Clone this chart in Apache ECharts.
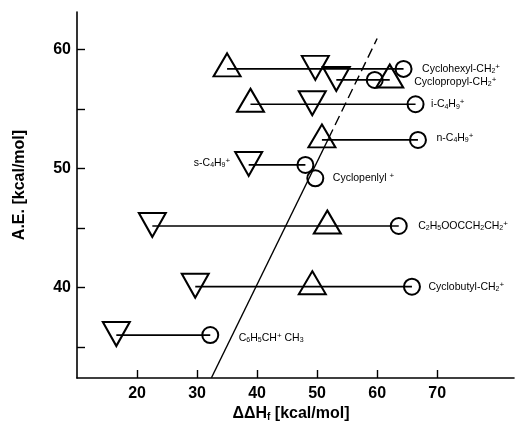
<!DOCTYPE html>
<html>
<head>
<meta charset="utf-8">
<script src="https://cdn.jsdelivr.net/npm/echarts@6/dist/echarts.min.js"></script>
<style>html,body{margin:0;padding:0;background:#fff}#c{width:515px;height:429px}</style>
</head>
<body>
<div id="c"></div>
<script>
// ---- data ----
const rowNames = ['Cyclohexyl-CH2+', 'Cyclopropyl-CH2+', 'i-C4H9+', 'n-C4H9+', 's-C4H9+', 'Cyclopentyl+', 'C2H5OOCCH2CH2+', 'Cyclobutyl-CH2+', 'C6H5CH+CH3'];
const rowY    = [58.35, 57.42, 55.38, 52.38, 50.28, 49.16, 45.15, 40.05, 35.99];
const circleX = [64.4, 59.6, 66.4, 66.8, 48.05, 49.7, 63.6, 65.8, 32.2];
const upX     = [35.0, 62.1, 38.9, 50.8, null, null, 51.7, 49.2, null];
const downX   = [49.7, 53.2, 49.2, null, 38.6, null, 22.55, 29.7, 16.55];
const fitX = [32.4, 51.9, 60.0];
const fitY = [32.4, 52.5, 60.9];
const xTicks = [20, 30, 40, 50, 60, 70];
const yTicks = [35, 40, 45, 50, 55, 60];
const yTickLabels = [40, 50, 60];
const rowLabels = [
  'Cyclohexyl-CH{s|2}{p|+}',
  'Cyclopropyl-CH{s|2}{p|+}',
  'i-C{s|4}H{s|9}{p|+}',
  'n-C{s|4}H{s|9}{p|+}',
  's-C{s|4}H{s|9}{p|+}',
  'Cyclopenlyl {p|+}',
  'C{s|2}H{s|5}OOCCH{s|2}CH{s|2}{p|+}',
  'Cyclobutyl-CH{s|2}{p|+}',
  'C{s|6}H{s|5}CH{p|+} CH{s|3}'
];

// ---- layout / style (not data) ----
const FONT = 'Liberation Sans, Arial, Helvetica, sans-serif';
const labelCfg = [
  {at: 'c', side: 'right', d: 18, dy: 0},
  {at: 'c', side: 'right', d: 39, dy: 2},
  {at: 'c', side: 'right', d: 15, dy: 0},
  {at: 'c', side: 'right', d: 18, dy: -2},
  {at: 'd', side: 'left',  d: 18, dy: -2},
  {at: 'c', side: 'right', d: 17, dy: 0},
  {at: 'c', side: 'right', d: 19, dy: 0},
  {at: 'c', side: 'right', d: 16, dy: 0},
  {at: 'c', side: 'right', d: 28, dy: 3}
];
const rich = {
  s: {fontSize: 7, fontFamily: FONT, color: '#000', verticalAlign: 'bottom', lineHeight: 10, padding: [4, 0, 0, 0]},
  p: {fontSize: 8, fontFamily: FONT, color: '#000', verticalAlign: 'top', lineHeight: 10, padding: [0, 0, 7, 0]}
};

const series = [];
rowY.forEach((y, i) => {
  const xs = [upX[i], downX[i], circleX[i]].filter(v => v !== null);
  if (xs.length < 2) return;
  series.push({
    type: 'line', symbol: 'none', silent: true, z: 1,
    lineStyle: {color: '#000', width: 1.7, opacity: 1},
    data: [[Math.min(...xs), y], [Math.max(...xs), y]]
  });
});
series.push({type: 'line', symbol: 'none', z: 1, lineStyle: {color: '#000', width: 1.4},
  data: [[fitX[0], fitY[0]], [fitX[1], fitY[1]]]});
series.push({type: 'line', symbol: 'none', z: 1, lineStyle: {color: '#000', width: 1.4, type: [10, 5]},
  data: [[fitX[1], fitY[1]], [fitX[2], fitY[2]]]});

const hollow = {color: 'rgba(0,0,0,0)', borderColor: '#000', borderWidth: 2, opacity: 1};
series.push({type: 'scatter', z: 3, symbol: 'triangle', symbolSize: [27, 23], symbolOffset: [0, -4],
  itemStyle: hollow,
  data: rowY.map((y, i) => upX[i] === null ? null : [upX[i], y]).filter(d => d)});
series.push({type: 'scatter', z: 3, symbol: 'triangle', symbolRotate: 180, symbolSize: [27, 24], symbolOffset: [0, -1],
  itemStyle: hollow,
  data: rowY.map((y, i) => downX[i] === null ? null : [downX[i], y]).filter(d => d)});
series.push({type: 'scatter', z: 3, symbol: 'circle', symbolSize: 16,
  itemStyle: hollow,
  data: rowY.map((y, i) => [circleX[i], y])});
series.push({type: 'scatter', z: 4, symbol: 'circle', symbolSize: 1, silent: true,
  itemStyle: {color: 'rgba(0,0,0,0)', opacity: 1},
  data: rowY.map((y, i) => {
    const c = labelCfg[i];
    const x = c.at === 'c' ? circleX[i] : (c.at === 'u' ? upX[i] : downX[i]);
    return {
      value: [x, y],
      label: {
        show: true, position: c.side, distance: c.d, offset: [0, c.dy],
        formatter: rowLabels[i], fontSize: 10.5, fontFamily: FONT, color: '#000',
        lineHeight: 12, rich: rich
      }
    };
  })});

const chart = echarts.init(document.getElementById('c'), null, {renderer: 'canvas'});
chart.setOption({
  animation: false,
  backgroundColor: '#fff',
  grid: {left: 77, top: 12, width: 437, height: 366, containLabel: false},
  xAxis: {
    type: 'value', min: 10, max: 82.8,
    axisLine: {show: true, onZero: false, lineStyle: {color: '#000', width: 1.6}},
    axisTick: {show: true, inside: true, length: 8, customValues: xTicks, lineStyle: {color: '#000', width: 1.4}},
    axisLabel: {customValues: xTicks, margin: 8, fontSize: 16, fontWeight: 'bold', fontFamily: FONT, color: '#000'},
    splitLine: {show: false}
  },
  yAxis: {
    type: 'value', min: 32.38, max: 63.13,
    axisLine: {show: true, onZero: false, lineStyle: {color: '#000', width: 1.6}},
    axisTick: {show: true, inside: true, length: 8, customValues: yTicks, lineStyle: {color: '#000', width: 1.4}},
    axisLabel: {customValues: yTickLabels, margin: 6, fontSize: 16, fontWeight: 'bold', fontFamily: FONT, color: '#000'},
    splitLine: {show: false}
  },
  graphic: [
    {type: 'text', x: 291, y: 414, style: {
      text: 'ΔΔH{f|f} [kcal/mol]', fontSize: 16, fontWeight: 'bold', fontFamily: FONT, fill: '#000',
      align: 'center', verticalAlign: 'middle',
      rich: {f: {fontSize: 10, fontWeight: 'bold', fontFamily: FONT, fill: '#000', verticalAlign: 'bottom', padding: [6, 0, 0, 0]}}
    }},
    {type: 'text', x: 20, y: 185, rotation: Math.PI / 2, style: {
      text: 'A.E. [kcal/mol]', fontSize: 16, fontWeight: 'bold', fontFamily: FONT, fill: '#000',
      align: 'center', verticalAlign: 'middle'
    }}
  ],
  series: series
});
</script>
</body>
</html>
